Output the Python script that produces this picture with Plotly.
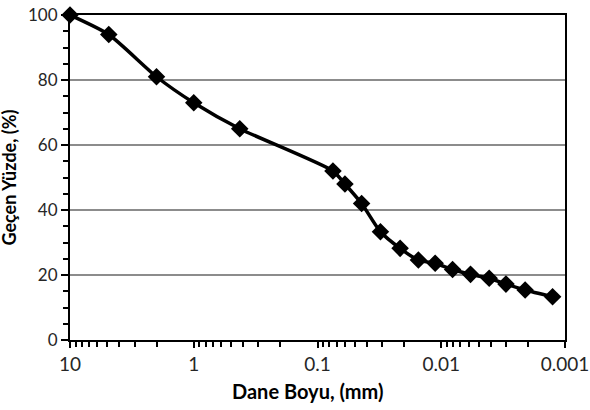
import plotly.graph_objects as go

# Grain size (mm) and percent passing
grain_size = [10, 4.86, 2.0, 1.0, 0.425, 0.075, 0.06, 0.044, 0.031, 0.0215,
              0.0153, 0.0112, 0.0081, 0.0058, 0.0041, 0.0030, 0.0021, 0.00126]
percent_passing = [100, 94, 81, 73, 65, 52, 48, 42, 33.3, 28.2,
                   24.6, 23.6, 21.7, 20.2, 19.0, 17.2, 15.4, 13.3]

x_tickvals = [10, 1, 0.1, 0.01, 0.001]
x_ticktext = ["10", "1", "0.1", "0.01", "0.001"]
x_minor = [m * 10.0 ** e for e in range(-3, 1) for m in range(2, 10)]
y_tickvals = [0, 20, 40, 60, 80, 100]
x_title = "Dane Boyu, (mm)"
y_title = "Geçen Yüzde, (%)"

FONT = "Lato"

fig = go.Figure()
fig.add_trace(go.Scatter(
    x=grain_size, y=percent_passing, mode="lines+markers",
    line=dict(color="black", width=3.5, shape="spline", smoothing=0.6),
    marker=dict(symbol="diamond", size=13.5, color="black"),
    cliponaxis=False, showlegend=False,
))

fig.update_layout(
    width=590, height=410,
    margin=dict(l=70, r=25, t=15, b=70),
    paper_bgcolor="white", plot_bgcolor="white",
    font=dict(family=FONT, size=18, color="#262626"),
    annotations=[
        dict(text=f"<b>{x_title}</b>", xref="paper", yref="paper", x=0.5, y=0,
             xanchor="center", yanchor="middle", xshift=-10, yshift=-51,
             showarrow=False, font=dict(family=FONT, size=20, color="black")),
        dict(text=f"<b>{y_title}</b>", xref="paper", yref="paper", x=0, y=0.5,
             xanchor="center", yanchor="middle", xshift=-62, textangle=-90,
             showarrow=False, font=dict(family=FONT, size=18, color="black")),
    ],
)
fig.update_xaxes(
    type="log", range=[1, -3], automargin=False, ticklabeloverflow="allow",
    tickvals=x_tickvals, ticktext=x_ticktext, tickfont=dict(size=19),
    ticks="outside", ticklen=6, tickwidth=2, tickcolor="black",
    minor=dict(tickvals=x_minor, ticks="outside", ticklen=5, tickwidth=1.5, tickcolor="black"),
    showline=True, linecolor="black", linewidth=2, mirror=True,
    showgrid=False, zeroline=False,
)
fig.update_yaxes(
    range=[0, 100], tickvals=y_tickvals, automargin=False, ticklabeloverflow="allow",
    tickfont=dict(size=17),
    ticks="outside", ticklen=7, tickwidth=2, tickcolor="black",
    minor=dict(dtick=5, ticks="outside", ticklen=5, tickwidth=1.5, tickcolor="black", showgrid=False),
    showline=True, linecolor="black", linewidth=2, mirror=True,
    showgrid=True, gridcolor="#8c8c8c", gridwidth=2, zeroline=False,
)

fig.write_html("out.html")
